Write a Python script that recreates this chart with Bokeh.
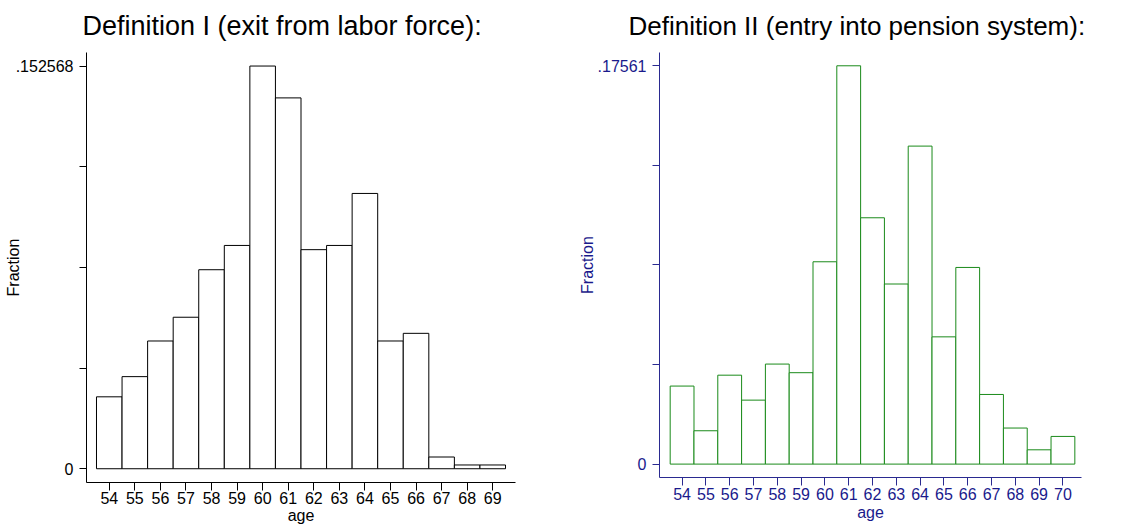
from bokeh.plotting import figure
from bokeh.layouts import row
from bokeh.models import Range1d, FixedTicker, CustomJSTickFormatter, ColumnDataSource, Title
from bokeh.embed import file_html
from bokeh.resources import INLINE

# ---- data ----
ages_def1 = list(range(54, 70))
frac_def1 = [0.02725, 0.0349, 0.0484, 0.0574, 0.0754, 0.0846, 0.152568, 0.1405,
             0.0830, 0.0846, 0.1043, 0.0484, 0.0513, 0.00445, 0.00143, 0.00143]
ages_def2 = list(range(54, 71))
frac_def2 = [0.0344, 0.0147, 0.0392, 0.0282, 0.0441, 0.0403, 0.0892, 0.17561,
             0.1086, 0.0794, 0.1402, 0.0561, 0.0867, 0.0307, 0.0159, 0.0063, 0.0122]
title_def1 = "Definition I (exit from labor force):"
title_def2 = "Definition II (entry into pension system):"
top_label_def1 = ".152568"
top_label_def2 = ".17561"
x_label = "age"
y_label = "Fraction"

FONT = "Liberation Sans"


def make_panel(ages, fracs, top_label, title, title_size, width, borders, xr, yr,
               axis_color, text_color, bar_color, title_dx, ylab_standoff, x_standoffs):
    bl, br, bt, bb = borders
    p = figure(width=width, height=526, output_backend="svg", toolbar_location=None,
               x_range=Range1d(*xr), y_range=Range1d(*yr), frame_align=False,
               min_border_left=bl, min_border_right=br, min_border_top=bt, min_border_bottom=bb)
    p.xgrid.visible = False
    p.ygrid.visible = False
    p.outline_line_color = None
    p.background_fill_color = "white"
    p.border_fill_color = "white"

    p.add_layout(Title(text=title, align="left", offset=title_dx, standoff=20,
                       vertical_align="top",
                       text_font=FONT, text_font_size=title_size, text_font_style="normal",
                       text_color="#000000"), "above")

    src = ColumnDataSource(dict(left=[a - 0.5 for a in ages], right=[a + 0.5 for a in ages],
                                top=fracs, bottom=[0] * len(ages)))
    p.quad(left="left", right="right", top="top", bottom="bottom", source=src,
           fill_color="white", line_color=bar_color, line_width=1)

    top = max(fracs)
    # x axis
    xa = p.xaxis[0]
    xa.ticker = FixedTicker(ticks=ages)
    xa.axis_label = x_label
    xa.axis_label_text_font = FONT
    xa.axis_label_text_font_size = "16px"
    xa.axis_label_text_font_style = "normal"
    xa.axis_label_text_color = text_color
    xa.axis_label_standoff = x_standoffs[1]
    xa.major_label_text_font = FONT
    xa.major_label_text_font_size = "16px"
    xa.major_label_text_color = text_color
    xa.major_label_standoff = x_standoffs[0]
    xa.major_tick_out = 8
    xa.major_tick_in = 0
    xa.minor_tick_out = 0
    xa.minor_tick_in = 0
    xa.axis_line_color = axis_color
    xa.major_tick_line_color = axis_color

    ya = p.yaxis[0]
    ya.ticker = FixedTicker(ticks=[0, top / 4, top / 2, 3 * top / 4, top])
    ya.formatter = CustomJSTickFormatter(args=dict(top=top, lab=top_label), code="""
        if (Math.abs(tick) < 1e-12) return "0";
        if (Math.abs(tick - top) < 1e-9) return lab;
        return "";
    """)
    ya.axis_label = y_label
    ya.axis_label_text_font = FONT
    ya.axis_label_text_font_size = "16px"
    ya.axis_label_text_font_style = "normal"
    ya.axis_label_text_color = text_color
    ya.axis_label_standoff = ylab_standoff
    ya.major_label_text_font = FONT
    ya.major_label_text_font_size = "16px"
    ya.major_label_text_color = text_color
    ya.major_label_standoff = 6
    ya.major_label_orientation = "horizontal"
    ya.major_tick_out = 7
    ya.major_tick_in = 0
    ya.minor_tick_out = 0
    ya.minor_tick_in = 0
    ya.axis_line_color = axis_color
    ya.major_tick_line_color = axis_color
    return p


# left panel
p1 = make_panel(ages_def1, frac_def1, top_label_def1, title_def1, "27px", 560, (86, 45, 52, 43),
                (53.109, 69.891), (-0.00521, 0.15770),
                "#000000", "#000000", "#000000", -4, -9, (1, 0))
# right panel
p2 = make_panel(ages_def2, frac_def2, top_label_def2, title_def2, "26px", 565, (99, 44, 52, 49),
                (53.051, 70.78), (-0.00591, 0.18147),
                "#2a2a90", "#1a1a8c", "#1a8a1a", -31, -1, (2, 1))

layout = row(p1, p2, spacing=0)
open("out.html", "w").write(file_html(layout, INLINE))
